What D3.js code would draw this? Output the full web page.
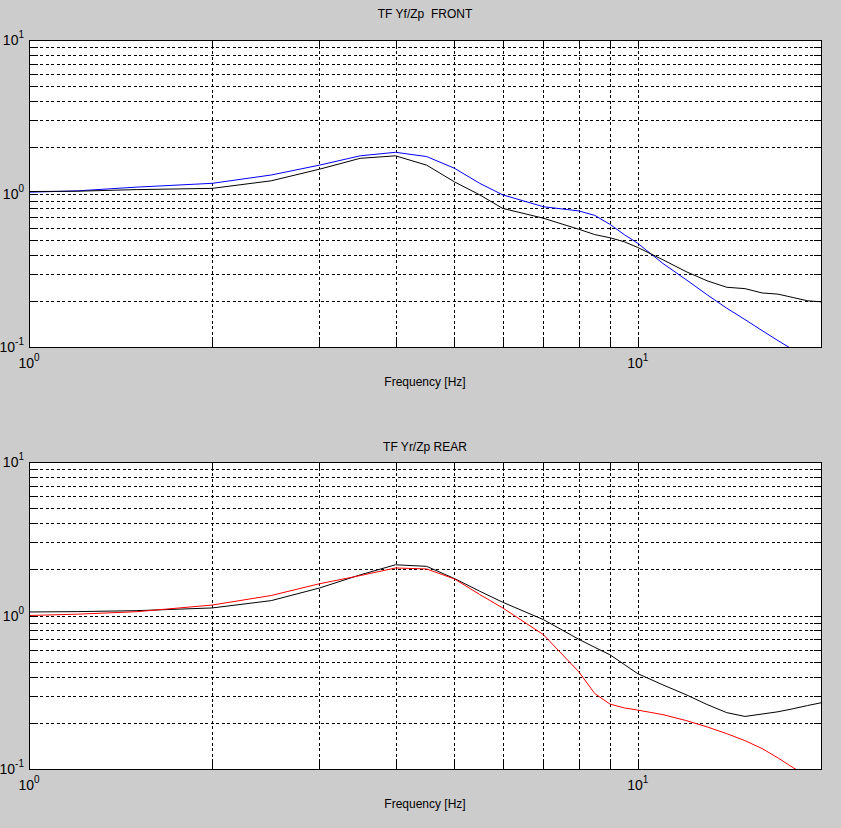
<!DOCTYPE html>
<html>
<head>
<meta charset="utf-8">
<script src="https://cdn.jsdelivr.net/npm/d3@7"></script>
<style>
    html, body { margin: 0; padding: 0; background: #cccccc; }
    svg { display: block; }
    text { font-family: "Liberation Sans", Arial, Helvetica, sans-serif; fill: #000; white-space: pre; }
</style>
</head>
<body>
<svg id="chart" width="841" height="828"></svg>
<script>
"use strict";

// ─────────────────────────────────────────
// データ
// ─────────────────────────────────────────
const freq = [1, 1.2, 1.5, 2, 2.5, 3, 3.5, 4, 4.5, 5, 5.5, 6, 7, 8, 8.5, 9, 9.5,
    10, 11, 12, 13, 14, 15, 16, 17, 18, 19, 20];

// FRONT: Yf/Zp
const frontBlue = [1.02, 1.04, 1.10, 1.165, 1.32, 1.53, 1.76, 1.855, 1.74, 1.46, 1.165, 0.98,
    0.82, 0.77, 0.72, 0.63, 0.54, 0.474, 0.35, 0.275, 0.219, 0.179, 0.151, 0.128, 0.110,
    0.096, 0.089, 0.082];
const frontBlack = [1.03, 1.035, 1.06, 1.08, 1.21, 1.44, 1.695, 1.76, 1.53, 1.19, 0.98, 0.80,
    0.69, 0.585, 0.54, 0.515, 0.485, 0.445, 0.37, 0.31, 0.27, 0.245, 0.24, 0.225, 0.221,
    0.21, 0.20, 0.197];

// REAR: Yr/Zp
const rearRed = [1.0, 1.02, 1.058, 1.17, 1.35, 1.61, 1.82, 2.04, 2.01, 1.73, 1.37, 1.12,
    0.75, 0.43, 0.31, 0.265, 0.25, 0.242, 0.226, 0.207, 0.188, 0.17, 0.153, 0.136, 0.118,
    0.102, 0.09, 0.08];
const rearBlack = [1.054, 1.06, 1.075, 1.12, 1.25, 1.51, 1.84, 2.14, 2.09, 1.74, 1.44, 1.22,
    0.94, 0.70, 0.62, 0.555, 0.48, 0.418, 0.353, 0.305, 0.263, 0.233, 0.22, 0.228, 0.236,
    0.247, 0.259, 0.27];

// 目盛り
const xGrid = [2, 3, 4, 5, 6, 7, 8, 9, 10];
const yGrid = [0.2, 0.3, 0.4, 0.5, 0.6, 0.7, 0.8, 0.9, 1, 2, 3, 4, 5, 6, 7, 8, 9];
const xTickLabels = [{ v: 1, exp: "0" }, { v: 10, exp: "1" }];
const yTickLabels = [{ v: 0.1, exp: "-1" }, { v: 1, exp: "0" }, { v: 10, exp: "1" }];

const panels = [
    {
        title: "TF Yf/Zp  FRONT", top: 40, titleY: 18,
        series: [{ values: frontBlue, color: "#0000ff" }, { values: frontBlack, color: "#000000" }],
    },
    {
        title: "TF Yr/Zp REAR", top: 462, titleY: 451,
        series: [{ values: rearBlack, color: "#000000" }, { values: rearRed, color: "#ff0000" }],
    },
];

// ─────────────────────────────────────────
// レイアウト
// ─────────────────────────────────────────
const LEFT = 29, RIGHT = 821, PANEL_H = 307, TICK_LEN = 7;
const svg = d3.select("#chart");

const x = d3.scaleLog().domain([1, 20]).range([LEFT, RIGHT]);

function tickLabel(g, tx, ty, exp, anchor) {
    const t = g.append("text")
        .attr("x", tx).attr("y", ty)
        .attr("text-anchor", anchor)
        .style("font-size", "14px");
    t.append("tspan").text("10");
    t.append("tspan").attr("dy", -7).style("font-size", "10px").text(exp);
}

panels.forEach((p, pi) => {
    const y = d3.scaleLog().domain([0.1, 10]).range([p.top + PANEL_H, p.top]);
    const g = svg.append("g");
    const x0 = LEFT, x1 = RIGHT, y0 = p.top, y1 = p.top + PANEL_H;

    // 描画領域
    g.append("rect")
        .attr("x", x0).attr("y", y0)
        .attr("width", x1 - x0).attr("height", y1 - y0)
        .attr("fill", "#fff");

    // グリッド（破線）
    const grid = g.append("g")
        .attr("stroke", "#000").attr("stroke-width", 1)
        .attr("stroke-dasharray", "3,2.5")
        .attr("shape-rendering", "crispEdges");
    xGrid.forEach(v => {
        const px = Math.round(x(v)) + 0.5;
        grid.append("line").attr("x1", px).attr("x2", px).attr("y1", y0).attr("y2", y1);
    });
    yGrid.forEach(v => {
        const py = Math.round(y(v)) + 0.5;
        grid.append("line").attr("x1", x0).attr("x2", x1).attr("y1", py).attr("y2", py);
    });

    // 目盛り線（四辺）
    const ticks = g.append("g")
        .attr("stroke", "#000").attr("stroke-width", 1)
        .attr("shape-rendering", "crispEdges");
    xGrid.forEach(v => {
        const px = Math.round(x(v)) + 0.5;
        ticks.append("line").attr("x1", px).attr("x2", px).attr("y1", y1).attr("y2", y1 - TICK_LEN);
        ticks.append("line").attr("x1", px).attr("x2", px).attr("y1", y0).attr("y2", y0 + TICK_LEN);
    });
    yGrid.forEach(v => {
        const py = Math.round(y(v)) + 0.5;
        ticks.append("line").attr("x1", x0).attr("x2", x0 + TICK_LEN).attr("y1", py).attr("y2", py);
        ticks.append("line").attr("x1", x1).attr("x2", x1 - TICK_LEN).attr("y1", py).attr("y2", py);
    });

    // 曲線
    const clipId = "clip" + pi;
    g.append("clipPath").attr("id", clipId)
        .append("rect").attr("x", x0).attr("y", y0)
        .attr("width", x1 - x0).attr("height", y1 - y0);

    const line = d3.line()
        .x((d, i) => x(freq[i]))
        .y(d => y(d));

    p.series.forEach(s => {
        g.append("path")
            .attr("clip-path", `url(#${clipId})`)
            .attr("d", line(s.values))
            .attr("fill", "none")
            .attr("stroke", s.color)
            .attr("stroke-width", 1);
    });

    // 枠
    g.append("rect")
        .attr("x", x0 + 0.5).attr("y", y0 + 0.5)
        .attr("width", x1 - x0).attr("height", y1 - y0)
        .attr("fill", "none").attr("stroke", "#000").attr("stroke-width", 1.3)
        .attr("shape-rendering", "crispEdges");

    // 目盛りラベル
    xTickLabels.forEach(t => tickLabel(g, x(t.v), y1 + 21, t.exp, "middle"));
    yTickLabels.forEach(t => tickLabel(g, x0 - 5, y(t.v) + 5, t.exp, "end"));

    // タイトル・軸ラベル
    g.append("text")
        .attr("x", (x0 + x1) / 2).attr("y", p.titleY)
        .attr("text-anchor", "middle").style("font-size", "12px")
        .text(p.title);
    g.append("text")
        .attr("x", (x0 + x1) / 2).attr("y", y1 + 39)
        .attr("text-anchor", "middle").style("font-size", "12px")
        .text("Frequency [Hz]");
});
</script>
</body>
</html>
